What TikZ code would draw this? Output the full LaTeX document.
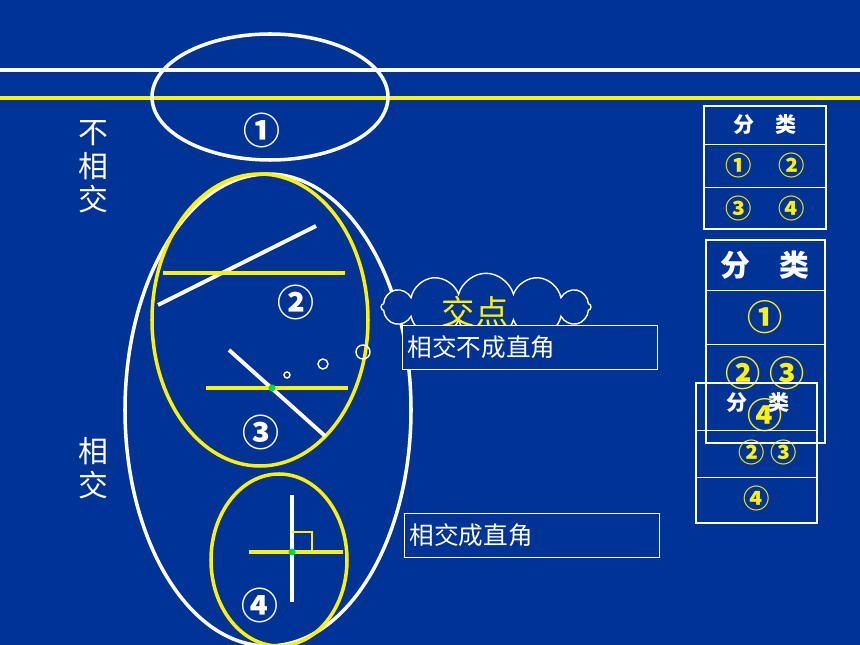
\documentclass[tikz,border=0pt]{standalone}
\usepackage{fontspec}
\newfontfamily\cjk{Noto Sans CJK SC}
\usetikzlibrary{positioning, shapes.symbols}
\definecolor{bgblue}{RGB}{0,51,150}
\definecolor{ptgreen}{RGB}{0,220,60}
\begin{document}
\begin{tikzpicture}[
    x=0.02cm, y=-0.02cm,
    whiteline/.style={draw=white, line width=2.2pt},
    yellowline/.style={draw=yellow, line width=2.2pt},
    label/.style={text=white, font=\cjk\fontsize{17}{19}\selectfont},
    circnum/.style={text=white, font=\cjk\bfseries\fontsize{21}{23}\selectfont},
    tabnum/.style={text=yellow, font=\cjk\bfseries\fontsize{15}{17}\selectfont},
    tabhead/.style={text=white, font=\cjk\bfseries\fontsize{12}{14}\selectfont},
    namebox/.style={draw=white, fill=bgblue, text=white, anchor=north west,
        minimum width=5.1cm, minimum height=0.88cm, inner sep=3pt, align=left,
        text width=4.9cm, font=\cjk\fontsize{14}{16}\selectfont},
    dot/.style={circle, fill=ptgreen, inner sep=0pt, minimum size=4pt}
]
    % background
    \fill[bgblue] (0,0) rectangle (860,645);
    \useasboundingbox (0,0) rectangle (860,645);

    % the two parallel lines
    \coordinate (wl) at (0,70);
    \coordinate (wr) at (860,70);
    \coordinate (yl) at (0,98);
    \coordinate (yr) at (860,98);
    \draw[whiteline] (wl) -- (wr);
    \draw[yellowline] (yl) -- (yr);
    \draw[white, line width=2pt] (270,97) ellipse [x radius=118, y radius=63];
    \node (n1) [circnum] at (262,130) {①};

    % side labels
    \node (nocross) [label, align=center] at (93,167) {不\\相\\交};
    \node (cross) [label, align=center] at (93,468) {相\\交};

    % big ellipse of crossing lines
    \draw[white, line width=2pt] (268,410) ellipse [x radius=143, y radius=236];
    \draw[yellow, line width=2pt] (260,320) ellipse [x radius=108, y radius=146];

    % case 2
    \coordinate (a1) at (158,305);
    \coordinate (a2) at (316,226);
    \coordinate (b1) at (163,273);
    \coordinate (b2) at (345,273);
    \draw[whiteline] (a1) -- (a2);
    \draw[yellowline] (b1) -- (b2);
    \node (n2) [circnum] at (296,302) {②};

    % case 3
    \coordinate (c1) at (229,350);
    \coordinate (c2) at (325,436);
    \coordinate (d1) at (206,388);
    \coordinate (d2) at (348,388);
    \draw[whiteline] (c1) -- (c2);
    \draw[yellowline] (d1) -- (d2);
    \node (p3) [dot] at (272,388) {};
    \node (n3) [circnum] at (261,432) {③};

    % thought bubble
    \draw[white, thick] (287,375) circle (3);
    \draw[white, thick] (323,364) circle (5);
    \draw[white, thick] (363,352) circle (7);
    \node (cloud) [cloud, cloud puffs=12, aspect=3, draw=white, thick, fill=bgblue,
        minimum width=4.2cm, minimum height=1.35cm] at (486,307) {};
    \node (meet) [text=yellow, font=\cjk\fontsize{19}{21}\selectfont] at (475,312) {交点};
    \node (notright) [namebox] at (402,325) {相交不成直角};

    % case 4
    \draw[yellow, line width=2pt] (279,560) ellipse [x radius=68, y radius=86];
    \coordinate (e1) at (292,495);
    \coordinate (e2) at (292,602);
    \coordinate (f1) at (249,552);
    \coordinate (f2) at (343,552);
    \draw[whiteline] (e1) -- (e2);
    \draw[yellowline] (f1) -- (f2);
    \draw[yellow, line width=1.6pt] (292,532) -- (312,532) -- (312,552);
    \node (p4) [dot] at (292,552) {};
    \node (n4) [circnum] at (260,605) {④};
    \node (right) [namebox] at (404,513) {相交成直角};

    % table 1
    \draw[white, line width=1.5pt] (704,106) rectangle (826,229);
    \draw[white] (704,144) -- (826,144);
    \draw[white] (704,187) -- (826,187);
    \node (ta) [tabhead] at (765,125) {分\quad 类};
    \node (ta1) [tabnum] at (765,165) {①\quad ②};
    \node (ta2) [tabnum] at (765,208) {③\quad ④};

    % table 2
    \draw[white, line width=1.5pt] (706,240) rectangle (825,443);
    \draw[white] (706,290) -- (825,290);
    \draw[white] (706,344) -- (825,344);
    \node (tb) [tabhead, font=\cjk\bfseries\fontsize{17}{19}\selectfont] at (765,265) {分\quad 类};
    \node (tb1) [tabnum, font=\cjk\bfseries\fontsize{20}{22}\selectfont] at (765,317) {①};
    \node (tb2) [tabnum, font=\cjk\bfseries\fontsize{20}{22}\selectfont] at (765,373) {②\ ③};
    \node (tb3) [tabnum, font=\cjk\bfseries\fontsize{20}{22}\selectfont] at (765,415) {④};

    % table 3
    \draw[white, line width=1.5pt] (696,383) rectangle (817,523);
    \draw[white] (696,430) -- (817,430);
    \draw[white] (696,477) -- (817,477);
    \node (tc) [tabhead] at (758,403) {分\quad 类};
    \node (tc1) [tabnum] at (768,452) {②\ ③};
    \node (tc2) [tabnum] at (757,498) {④};
\end{tikzpicture}
\end{document}
